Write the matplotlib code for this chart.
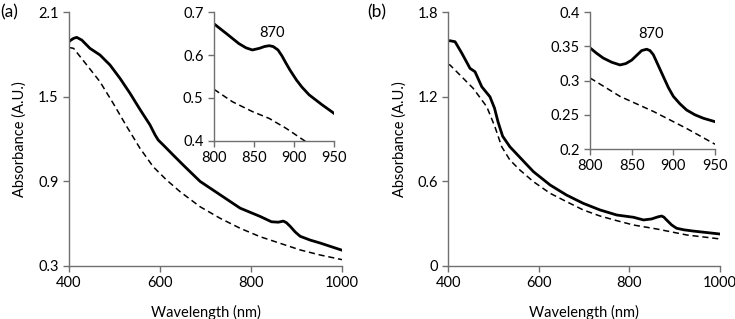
import matplotlib.pyplot as plt

# -----------------------------------------------------------------------------
# Data
# -----------------------------------------------------------------------------
a_wl_solid = [400, 402, 410, 417, 428, 446, 468, 490, 512, 534, 556, 578, 589, 596,
              611, 629, 651, 688, 732, 776, 820, 845, 860, 871, 878, 886, 897, 908,
              930, 952, 1000]
a_abs_solid = [1.89, 1.898, 1.915, 1.922, 1.903, 1.844, 1.797, 1.726, 1.631, 1.525,
               1.410, 1.300, 1.230, 1.193, 1.145, 1.086, 1.015, 0.899, 0.804, 0.709,
               0.650, 0.612, 0.609, 0.617, 0.605, 0.580, 0.54, 0.509, 0.482, 0.461, 0.410]
a_wl_dash = [400, 410, 439, 468, 497, 527, 556, 585, 614, 644, 688, 732, 776, 820,
             864, 908, 952, 1000]
a_abs_dash = [1.85, 1.844, 1.726, 1.607, 1.454, 1.288, 1.134, 1.003, 0.91, 0.826,
              0.719, 0.637, 0.566, 0.506, 0.459, 0.412, 0.376, 0.343]

a_in_wl_solid = [800, 815, 831, 840, 848, 857, 863, 869, 874, 880, 885, 890, 895, 903,
                 910, 919, 935, 950]
a_in_abs_solid = [0.673, 0.651, 0.627, 0.617, 0.612, 0.616, 0.620, 0.622, 0.620, 0.612,
                  0.598, 0.581, 0.565, 0.542, 0.525, 0.507, 0.484, 0.464]
a_in_wl_dash = [800, 823, 848, 869, 890, 913, 930]
a_in_abs_dash = [0.52, 0.491, 0.468, 0.452, 0.429, 0.400, 0.38]

b_wl_solid = [400, 404, 415, 430, 448, 459, 474, 492, 502, 510, 520, 536, 558, 588,
              625, 661, 698, 735, 772, 809, 831, 849, 862, 871, 876, 882, 893, 904,
              920, 941, 1000]
b_abs_solid = [1.598, 1.598, 1.591, 1.509, 1.402, 1.378, 1.271, 1.20, 1.12, 1.02, 0.92,
               0.845, 0.77, 0.668, 0.573, 0.502, 0.443, 0.396, 0.360, 0.344, 0.325,
               0.332, 0.346, 0.353, 0.345, 0.325, 0.29, 0.266, 0.255, 0.246, 0.225]
b_wl_dash = [400, 404, 426, 455, 485, 503, 518, 536, 558, 588, 625, 661, 698, 735, 772,
             809, 860, 927, 1000]
b_abs_dash = [1.43, 1.425, 1.354, 1.26, 1.129, 0.987, 0.845, 0.751, 0.680, 0.597,
              0.514, 0.455, 0.396, 0.353, 0.320, 0.289, 0.261, 0.218, 0.19]

b_in_wl_solid = [800, 808, 816, 826, 836, 843, 850, 856, 862, 868, 872, 876, 882, 888,
                 894, 900, 908, 916, 926, 936, 950]
b_in_abs_solid = [0.348, 0.340, 0.333, 0.327, 0.323, 0.325, 0.330, 0.337, 0.344, 0.346,
                  0.344, 0.338, 0.322, 0.306, 0.290, 0.277, 0.266, 0.257, 0.250, 0.245,
                  0.240]
b_in_wl_dash = [800, 836, 876, 916, 950]
b_in_abs_dash = [0.304, 0.277, 0.255, 0.230, 0.207]

a_yticks = [0.3, 0.9, 1.5, 2.1]
b_yticks = [0, 0.6, 1.2, 1.8]
a_in_yticks = [0.4, 0.5, 0.6, 0.7]
b_in_yticks = [0.2, 0.25, 0.3, 0.35, 0.4]
main_xticks = [400, 600, 800, 1000]
in_xticks = [800, 850, 900, 950]

plt.rcParams['font.family'] = ['Lato', 'DejaVu Sans']
AXCOL = '#707070'


def style(ax, fs=10.5):
    for s in ('top', 'right'):
        ax.spines[s].set_visible(False)
    for s in ('left', 'bottom'):
        ax.spines[s].set_color(AXCOL)
        ax.spines[s].set_linewidth(1.0)
    ax.tick_params(direction='out', length=4, width=1.0, color=AXCOL,
                   labelsize=fs, labelcolor='black')
    ax.patch.set_alpha(0)


def panel(ax_main, ax_in, ws, s, wd, d, iws, i_s, iwd, idd, yt, iyt, ann_y):
    ax_main.plot(ws, s, color='black', lw=2.0)
    ax_main.plot(wd, d, color='black', lw=1.1, dashes=(4, 2.5))
    ax_main.set_xlim(400, 1000)
    ax_main.set_ylim(yt[0], yt[-1])
    ax_main.set_xticks(main_xticks)
    ax_main.set_yticks(yt)
    ax_main.set_yticklabels([('%g' % v) for v in yt])
    ax_main.set_xlabel('Wavelength (nm)', fontsize=10.5, labelpad=11)
    ax_main.set_ylabel('Absorbance (A.U.)', fontsize=10.5, labelpad=8)
    style(ax_main)

    ax_in.plot(iws, i_s, color='black', lw=2.0)
    ax_in.plot(iwd, idd, color='black', lw=1.1, dashes=(4, 2.5))
    ax_in.set_xlim(800, 950)
    ax_in.set_ylim(iyt[0], iyt[-1])
    ax_in.set_xticks(in_xticks)
    ax_in.set_yticks(iyt)
    ax_in.set_yticklabels([('%g' % v) for v in iyt])
    ax_in.text(873, ann_y, '870', ha='center', va='center', fontsize=10.5)
    style(ax_in)


fig = plt.figure(figsize=(7.35, 3.19), dpi=100)
ax_a = fig.add_axes([0.0939, 0.1671, 0.3714, 0.7943])
ax_ai = fig.add_axes([0.2912, 0.559, 0.1632, 0.4024])
ax_b = fig.add_axes([0.6099, 0.1671, 0.3697, 0.7943])
ax_bi = fig.add_axes([0.8027, 0.5329, 0.1701, 0.4285])

panel(ax_a, ax_ai, a_wl_solid, a_abs_solid, a_wl_dash, a_abs_dash,
      a_in_wl_solid, a_in_abs_solid, a_in_wl_dash, a_in_abs_dash,
      a_yticks, a_in_yticks, 0.651)
panel(ax_b, ax_bi, b_wl_solid, b_abs_solid, b_wl_dash, b_abs_dash,
      b_in_wl_solid, b_in_abs_solid, b_in_wl_dash, b_in_abs_dash,
      b_yticks, b_in_yticks, 0.369)

fig.text(0.0, 0.962, '(a)', fontsize=12.5, va='center', ha='left')
fig.text(0.500, 0.962, '(b)', fontsize=12.5, va='center', ha='left')

plt.savefig('out.png', dpi=100)
